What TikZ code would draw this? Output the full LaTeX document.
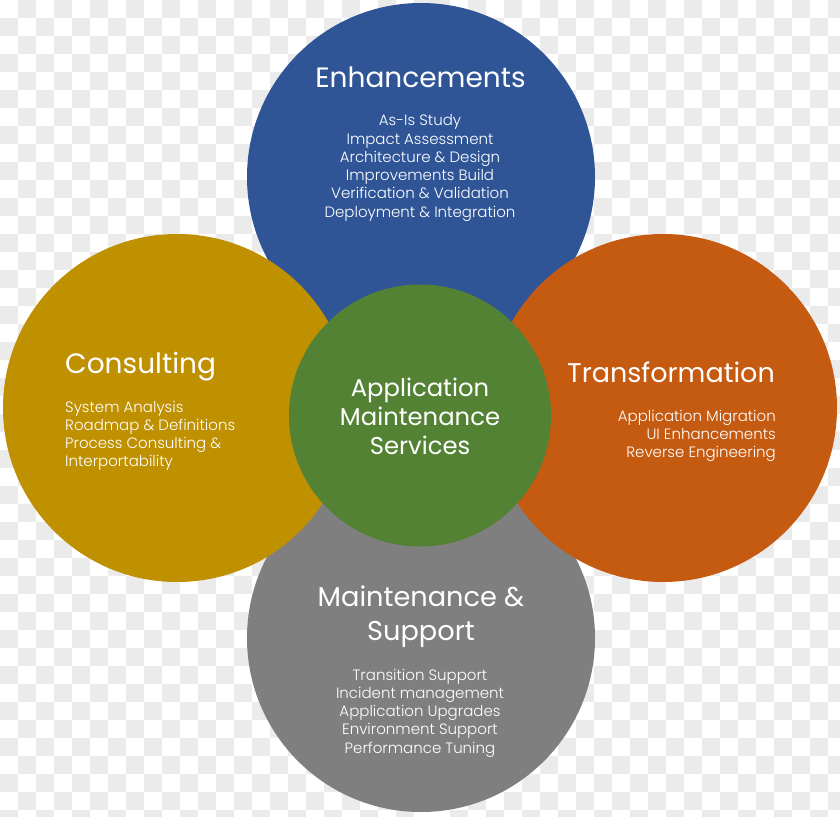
\documentclass[tikz,border=0pt]{standalone}
\usepackage{fontspec}
\setmainfont{Poppins}
\newfontfamily\lightfont{Poppins Light}
\definecolor{cblue}{HTML}{2F5597}
\definecolor{cgold}{HTML}{BF9000}
\definecolor{corange}{HTML}{C55A11}
\definecolor{cgray}{HTML}{7F7F7F}
\definecolor{cgreen}{HTML}{548235}
\definecolor{checker}{HTML}{EBEBEB}
\tikzset{
  bigcirc/.style={circle, inner sep=0pt, minimum size=348pt},
  title/.style={text=white, font=\fontsize{28}{33.3}\selectfont, inner sep=0pt},
  body/.style={text=white, font=\lightfont\fontsize{15}{18.3}\selectfont, inner sep=0pt},
  core/.style={text=white, font=\fontsize{24.3}{29}\selectfont, inner sep=0pt, align=center},
}
\begin{document}
\begin{tikzpicture}[x=1pt,y=-1pt]
\useasboundingbox (0,0) rectangle (840,816);
\fill[white] (0,0) rectangle (840,816);
\foreach \i in {0,...,46}{
  \foreach \j in {0,...,45}{
    \pgfmathtruncatemacro\p{mod(\i+\j+(\i>23),2)}
    \ifnum\p=1 \fill[checker] (\i*18,\j*18) rectangle ++(18,18); \fi
  }
}
\node[bigcirc, fill=cblue] (enh) at (421,177) {};
\node[bigcirc, fill=cgray] (mnt) at (421,638) {};
\node[bigcirc, fill=cgold] (con) at (177,408) {};
\node[bigcirc, fill=corange] (trf) at (663,408) {};
\node[circle, inner sep=0pt, minimum size=262pt, fill=cgreen] (ams) at (420,415.5) {};

% anchor=base of a multi-line node is the baseline of its last line
\node[title, anchor=base] (enht) at (420.5,87) {Enhancements};
\node[body, anchor=base, align=center] (enhb) at (420,217.2) {As-Is Study\\Impact Assessment\\Architecture \& Design\\Improvements Build\\Verification \& Validation\\Deployment \& Integration};

\node[title, anchor=base west] (cont) at (65,373) {Consulting};
\node[body, anchor=base west, align=left] (conb) at (65,466.9) {System Analysis\\Roadmap \& Definitions\\Process Consulting \&\\Interportability};

\node[title, anchor=base east, font=\fontsize{27}{32}\selectfont] (trft) at (775,382) {Transformation};
\node[body, anchor=base east, align=right] (trfb) at (776,457.6) {Application Migration\\UI Enhancements\\Reverse Engineering};

\node[title, anchor=base, align=center, font=\fontsize{27.2}{33.3}\selectfont] (mntt) at (421,640) {Maintenance \&\\Support};
\node[body, anchor=base, align=center] (mntb) at (420,753.2) {Transition Support\\Incident management\\Application Upgrades\\Environment Support\\Performance Tuning};

\node[core, anchor=base] (amst) at (420,454) {Application\\Maintenance\\Services};
\end{tikzpicture}
\end{document}
